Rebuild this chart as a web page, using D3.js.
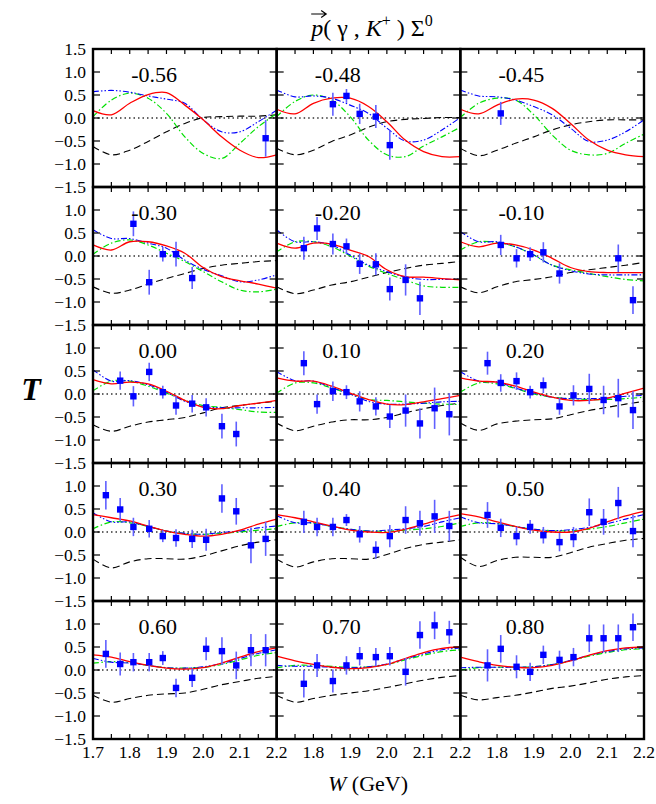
<!DOCTYPE html>
<html>
<head>
<meta charset="utf-8">
<script src="https://cdn.jsdelivr.net/npm/d3@7"></script>
<style>
  body { margin: 0; background: #fff; }
  svg { display: block; }
  text { font-family: "Liberation Serif", "DejaVu Serif", serif; fill: #000; }
</style>
</head>
<body>
<div id="chart"></div>
<script>
// cos(theta) label of every panel, row by row
const ANGLES = ["-0.56", "-0.48", "-0.45", "-0.30", "-0.20", "-0.10", "0.00", "0.10", "0.20",
                "0.30", "0.40", "0.50", "0.60", "0.70", "0.80"];

const W_GRID = [1.70, 1.75, 1.80, 1.85, 1.90, 1.95, 2.00, 2.05, 2.10, 2.15, 2.20];

// model curves, one array per panel (red solid)
const RED = [
  [0.16, 0.07, 0.32, 0.51, 0.55, 0.28, -0.04, -0.41, -0.70, -0.86, -0.80],
  [0.19, 0.09, 0.32, 0.43, 0.43, 0.25, -0.08, -0.48, -0.73, -0.84, -0.84],
  [0.19, 0.09, 0.28, 0.41, 0.39, 0.21, -0.12, -0.48, -0.70, -0.80, -0.84],
  [0.24, 0.13, 0.31, 0.31, 0.22, 0.06, -0.25, -0.45, -0.54, -0.61, -0.70],
  [0.28, 0.17, 0.28, 0.26, 0.13, -0.01, -0.30, -0.45, -0.46, -0.49, -0.52],
  [0.31, 0.20, 0.28, 0.24, 0.13, -0.05, -0.25, -0.34, -0.36, -0.36, -0.36],
  [0.31, 0.22, 0.26, 0.22, 0.06, -0.14, -0.29, -0.32, -0.25, -0.20, -0.14],
  [0.35, 0.28, 0.28, 0.17, 0.02, -0.12, -0.22, -0.23, -0.17, -0.10, -0.03],
  [0.35, 0.28, 0.26, 0.17, 0.04, -0.07, -0.14, -0.14, -0.09, 0.02, 0.13],
  [0.38, 0.31, 0.24, 0.13, 0.02, -0.05, -0.09, -0.05, 0.04, 0.17, 0.28],
  [0.38, 0.31, 0.22, 0.13, 0.04, 0.00, -0.01, 0.06, 0.17, 0.29, 0.38],
  [0.40, 0.33, 0.22, 0.12, 0.04, 0.00, 0.00, 0.08, 0.22, 0.35, 0.45],
  [0.33, 0.28, 0.18, 0.10, 0.04, 0.02, 0.05, 0.15, 0.28, 0.40, 0.48],
  [0.30, 0.20, 0.12, 0.06, 0.03, 0.05, 0.12, 0.25, 0.38, 0.47, 0.50],
  [0.28, 0.18, 0.10, 0.06, 0.05, 0.10, 0.20, 0.32, 0.42, 0.48, 0.50]
];

// green dash-dot
const GREEN = [
  [0.03, 0.39, 0.54, 0.43, 0.10, -0.41, -0.77, -0.88, -0.55, -0.19, 0.10],
  [0.03, 0.36, 0.50, 0.39, 0.03, -0.48, -0.80, -0.84, -0.61, -0.41, -0.20],
  [0.01, 0.32, 0.43, 0.39, 0.07, -0.37, -0.70, -0.80, -0.77, -0.55, -0.35],
  [0.04, 0.28, 0.35, 0.24, 0.06, -0.12, -0.34, -0.56, -0.74, -0.78, -0.72],
  [0.09, 0.31, 0.31, 0.20, 0.00, -0.22, -0.38, -0.52, -0.65, -0.68, -0.68],
  [0.13, 0.31, 0.29, 0.20, 0.02, -0.20, -0.30, -0.38, -0.45, -0.51, -0.54],
  [0.07, 0.28, 0.28, 0.17, 0.02, -0.14, -0.25, -0.29, -0.34, -0.39, -0.40],
  [0.02, 0.24, 0.24, 0.13, 0.00, -0.12, -0.14, -0.17, -0.20, -0.22, -0.23],
  [0.04, 0.24, 0.22, 0.12, 0.00, -0.07, -0.10, -0.12, -0.12, -0.10, -0.07],
  [0.07, 0.22, 0.20, 0.12, 0.02, -0.03, -0.05, -0.03, 0.00, 0.04, 0.07],
  [0.12, 0.20, 0.19, 0.12, 0.06, 0.02, 0.02, 0.04, 0.07, 0.12, 0.20],
  [0.12, 0.20, 0.18, 0.12, 0.06, 0.03, 0.03, 0.06, 0.12, 0.20, 0.28],
  [0.15, 0.18, 0.16, 0.10, 0.05, 0.04, 0.06, 0.12, 0.22, 0.32, 0.38],
  [0.05, 0.10, 0.10, 0.08, 0.06, 0.07, 0.12, 0.22, 0.32, 0.40, 0.44],
  [0.00, 0.05, 0.06, 0.06, 0.07, 0.12, 0.20, 0.30, 0.38, 0.44, 0.46]
];

// blue dash-dot-dot
const BLUE = [
  [0.57, 0.60, 0.56, 0.48, 0.41, 0.32, -0.04, -0.30, -0.30, -0.08, 0.17],
  [0.61, 0.46, 0.48, 0.43, 0.28, 0.10, -0.22, -0.50, -0.48, -0.26, 0.01],
  [0.61, 0.48, 0.46, 0.39, 0.25, 0.07, -0.22, -0.51, -0.48, -0.30, -0.04],
  [0.57, 0.38, 0.38, 0.28, 0.17, -0.09, -0.29, -0.43, -0.56, -0.52, -0.41],
  [0.57, 0.31, 0.31, 0.24, 0.02, -0.20, -0.34, -0.46, -0.51, -0.51, -0.50],
  [0.53, 0.31, 0.31, 0.20, 0.02, -0.20, -0.32, -0.39, -0.41, -0.41, -0.41],
  [0.53, 0.28, 0.29, 0.20, 0.04, -0.16, -0.27, -0.30, -0.30, -0.30, -0.29],
  [0.49, 0.29, 0.28, 0.14, 0.00, -0.16, -0.22, -0.22, -0.20, -0.17, -0.16],
  [0.49, 0.28, 0.26, 0.13, 0.02, -0.07, -0.10, -0.10, -0.09, -0.05, -0.03],
  [0.42, 0.22, 0.22, 0.12, 0.02, -0.03, -0.05, -0.01, 0.02, 0.09, 0.13],
  [0.36, 0.20, 0.20, 0.12, 0.06, 0.02, 0.04, 0.07, 0.12, 0.22, 0.31],
  [0.33, 0.20, 0.18, 0.12, 0.06, 0.03, 0.05, 0.10, 0.18, 0.28, 0.38],
  [0.25, 0.17, 0.15, 0.10, 0.05, 0.04, 0.07, 0.14, 0.25, 0.36, 0.44],
  [0.10, 0.08, 0.08, 0.06, 0.05, 0.07, 0.13, 0.24, 0.35, 0.44, 0.48],
  [0.05, 0.06, 0.06, 0.06, 0.07, 0.12, 0.21, 0.32, 0.40, 0.46, 0.48]
];

// black dashed
const BLACK = [
  [-0.62, -0.80, -0.70, -0.51, -0.30, -0.12, 0.01, 0.03, 0.04, 0.04, 0.07],
  [-0.66, -0.80, -0.70, -0.51, -0.37, -0.20, -0.08, -0.03, -0.01, 0.01, 0.01],
  [-0.66, -0.82, -0.70, -0.55, -0.41, -0.26, -0.15, -0.08, -0.04, -0.04, -0.04],
  [-0.67, -0.81, -0.74, -0.61, -0.49, -0.38, -0.27, -0.20, -0.16, -0.12, -0.10],
  [-0.67, -0.82, -0.74, -0.63, -0.56, -0.46, -0.36, -0.27, -0.20, -0.16, -0.12],
  [-0.67, -0.80, -0.67, -0.56, -0.51, -0.45, -0.36, -0.30, -0.25, -0.20, -0.14],
  [-0.67, -0.81, -0.70, -0.61, -0.56, -0.51, -0.41, -0.30, -0.25, -0.20, -0.16],
  [-0.63, -0.80, -0.70, -0.61, -0.56, -0.56, -0.51, -0.41, -0.32, -0.25, -0.20],
  [-0.63, -0.79, -0.65, -0.59, -0.56, -0.54, -0.45, -0.36, -0.29, -0.22, -0.16],
  [-0.59, -0.78, -0.65, -0.58, -0.58, -0.59, -0.52, -0.41, -0.30, -0.22, -0.17],
  [-0.59, -0.76, -0.65, -0.58, -0.58, -0.59, -0.49, -0.36, -0.27, -0.22, -0.17],
  [-0.55, -0.75, -0.62, -0.55, -0.55, -0.55, -0.45, -0.33, -0.25, -0.18, -0.14],
  [-0.55, -0.70, -0.62, -0.55, -0.52, -0.50, -0.42, -0.32, -0.25, -0.18, -0.14],
  [-0.55, -0.70, -0.62, -0.55, -0.50, -0.45, -0.38, -0.30, -0.22, -0.16, -0.12],
  [-0.55, -0.65, -0.60, -0.55, -0.48, -0.40, -0.35, -0.28, -0.20, -0.15, -0.12]
];

// W bins of the measured points
const W_BINS = [1.735, 1.774, 1.810, 1.853, 1.890, 1.926, 1.970, 2.008, 2.051, 2.090, 2.130, 2.170];

// measured T per panel (null = no point in that bin)
const T_DATA = [
  [null, null, null, null, null, null, null, null, null, null, null, -0.44],
  [null, null, null, 0.30, 0.48, 0.09, 0.03, -0.59, null, null, null, null],
  [null, null, 0.10, null, null, null, null, null, null, null, null, null],
  [null, null, 0.70, -0.57, 0.04, 0.04, -0.48, null, null, null, null, null],
  [null, 0.17, 0.60, 0.26, 0.21, -0.17, -0.18, -0.72, -0.52, -0.92, null, null],
  [null, null, 0.24, -0.05, 0.04, 0.08, -0.38, null, null, null, -0.05, -0.96],
  [null, 0.29, -0.05, 0.48, 0.04, -0.25, -0.21, -0.29, -0.70, -0.87, null, null],
  [null, 0.67, -0.22, 0.06, 0.04, -0.16, -0.27, -0.49, -0.36, -0.64, -0.31, -0.44],
  [null, 0.67, 0.24, 0.28, 0.04, 0.19, -0.27, -0.03, 0.11, -0.13, -0.09, -0.35],
  [0.80, 0.49, 0.11, 0.07, -0.09, -0.13, -0.15, -0.17, 0.73, 0.45, -0.29, -0.15],
  [null, 0.22, 0.11, 0.11, 0.26, -0.05, -0.39, -0.09, 0.26, 0.19, 0.34, 0.13],
  [null, 0.37, 0.09, -0.09, 0.11, -0.07, -0.22, -0.11, 0.43, 0.22, 0.63, 0.02],
  [0.35, 0.13, 0.17, 0.17, 0.26, -0.39, -0.17, 0.46, 0.41, 0.10, 0.43, 0.43],
  [null, -0.30, 0.10, -0.24, 0.10, 0.30, 0.28, 0.30, -0.04, 0.76, 0.97, 0.82],
  [null, 0.10, 0.46, 0.07, -0.04, 0.33, 0.22, 0.28, 0.69, 0.69, 0.69, 0.93]
];

// error bars, same layout
const T_ERR = [
  [null, null, null, null, null, null, null, null, null, null, null, 0.40],
  [null, null, null, 0.25, 0.15, 0.22, 0.25, 0.32, null, null, null, null],
  [null, null, 0.25, null, null, null, null, null, null, null, null, null],
  [null, null, 0.27, 0.27, 0.16, 0.27, 0.24, null, null, null, null, null],
  [null, 0.25, 0.25, 0.23, 0.17, 0.22, 0.24, 0.25, 0.34, 0.36, null, null],
  [null, null, 0.22, 0.20, 0.15, 0.22, 0.22, null, null, null, 0.30, 0.30],
  [null, 0.20, 0.22, 0.20, 0.14, 0.20, 0.19, 0.20, 0.27, 0.27, null, null],
  [null, 0.26, 0.21, 0.21, 0.15, 0.22, 0.20, 0.25, 0.35, 0.33, 0.45, 0.46],
  [null, 0.25, 0.19, 0.19, 0.14, 0.17, 0.18, 0.22, 0.33, 0.31, 0.42, 0.41],
  [0.31, 0.25, 0.20, 0.19, 0.13, 0.19, 0.20, 0.24, 0.31, 0.29, 0.39, 0.37],
  [null, 0.24, 0.20, 0.20, 0.13, 0.18, 0.19, 0.24, 0.30, 0.27, 0.36, 0.33],
  [null, 0.28, 0.20, 0.20, 0.15, 0.18, 0.20, 0.22, 0.30, 0.28, 0.35, 0.35],
  [0.30, 0.25, 0.20, 0.20, 0.15, 0.20, 0.20, 0.25, 0.30, 0.30, 0.35, 0.35],
  [null, 0.30, 0.25, 0.25, 0.20, 0.20, 0.20, 0.20, 0.30, 0.30, 0.30, 0.25],
  [null, 0.35, 0.30, 0.25, 0.20, 0.20, 0.20, 0.20, 0.30, 0.30, 0.30, 0.30]
];

const Y_TICKS = [-1.5, -1.0, -0.5, 0.0, 0.5, 1.0, 1.5];
const X_LABELS = [1.7, 1.8, 1.9, 2.0, 2.1, 2.2];

// layout
const width = 656, height = 804;
const plotL = 93, plotT = 49, plotR = 644, plotB = 739;
const ncol = 3, nrow = 5;
const pw = (plotR - plotL) / ncol, ph = (plotB - plotT) / nrow;

const svg = d3.select("#chart").append("svg")
    .attr("width", width)
    .attr("height", height);

const x = d3.scaleLinear().domain([1.7, 2.2]).range([0, pw]);
const y = d3.scaleLinear().domain([-1.5, 1.5]).range([ph, 0]);

const line = d3.line()
    .x((d, i) => x(W_GRID[i]))
    .y(d => y(d))
    .curve(d3.curveCatmullRom.alpha(0.5));

const styles = [
  {data: BLACK, color: "#000", dash: "7,4", w: 1.1},
  {data: GREEN, color: "#00e000", dash: "6,2.5,1.5,2.5", w: 1.2},
  {data: BLUE, color: "#0000ff", dash: "6,2,1.5,2,1.5,2", w: 1.1},
  {data: RED, color: "#ff0000", dash: null, w: 1.3}
];

ANGLES.forEach((ang, p) => {
  const col = p % ncol, row = Math.floor(p / ncol);
  const g = svg.append("g")
      .attr("transform", "translate(" + (plotL + col * pw) + "," + (plotT + row * ph) + ")");

  // zero line
  g.append("line")
      .attr("x1", 0).attr("x2", pw)
      .attr("y1", y(0)).attr("y2", y(0))
      .attr("stroke", "#333")
      .attr("stroke-width", 1.3)
      .attr("stroke-dasharray", "1.5,3");

  styles.forEach(s => {
    g.append("path")
        .attr("d", line(s.data[p]))
        .attr("fill", "none")
        .attr("stroke", s.color)
        .attr("stroke-width", s.w)
        .attr("stroke-dasharray", s.dash);
  });

  const pts = W_BINS.map((w, i) => ({w: w, t: T_DATA[p][i], e: T_ERR[p][i]}))
      .filter(d => d.t !== null);

  g.selectAll(".err").data(pts).enter().append("line")
      .attr("x1", d => x(d.w)).attr("x2", d => x(d.w))
      .attr("y1", d => y(d.t - d.e)).attr("y2", d => y(d.t + d.e))
      .attr("stroke", "#6060ff")
      .attr("stroke-width", 1.6);

  g.selectAll(".pt").data(pts).enter().append("rect")
      .attr("x", d => x(d.w) - 3.2)
      .attr("y", d => y(d.t) - 3.2)
      .attr("width", 6.4).attr("height", 6.4)
      .attr("fill", "#0000ff");

  // ticks on all four sides, pointing in
  const xt = d3.range(1.75, 2.2, 0.05);
  xt.forEach(v => {
    g.append("line").attr("x1", x(v)).attr("x2", x(v)).attr("y1", 0).attr("y2", 5)
        .attr("stroke", "#000").attr("stroke-width", 1.2);
    g.append("line").attr("x1", x(v)).attr("x2", x(v)).attr("y1", ph).attr("y2", ph - 5)
        .attr("stroke", "#000").attr("stroke-width", 1.2);
  });
  Y_TICKS.slice(1, -1).forEach(v => {
    g.append("line").attr("x1", 0).attr("x2", 7).attr("y1", y(v)).attr("y2", y(v))
        .attr("stroke", "#000").attr("stroke-width", 1.2);
    g.append("line").attr("x1", pw).attr("x2", pw - 7).attr("y1", y(v)).attr("y2", y(v))
        .attr("stroke", "#000").attr("stroke-width", 1.2);
  });

  g.append("rect")
      .attr("width", pw).attr("height", ph)
      .attr("fill", "none")
      .attr("stroke", "#000")
      .attr("stroke-width", 2.4);

  g.append("text")
      .attr("x", 84).attr("y", 33)
      .attr("text-anchor", "end")
      .style("font-size", "22px")
      .text(ang);

  if (col === 0) {
    // the top "1.5" of lower rows sits exactly under the "-1.5" above, so it is left out
    Y_TICKS.filter(v => !(row > 0 && v === 1.5)).forEach(v => {
      g.append("text")
          .attr("x", -7).attr("y", y(v))
          .attr("dy", "0.35em")
          .attr("text-anchor", "end")
          .style("font-size", "17.5px")
          .text(d3.format(".1f")(v).replace("-", "\u2212"));
    });
  }
  if (row === nrow - 1) {
    X_LABELS.forEach(v => {
      if (col > 0 && v === 1.7) return;
      g.append("text")
          .attr("x", x(v)).attr("y", ph + 19)
          .attr("text-anchor", "middle")
          .style("font-size", "17.5px")
          .text(d3.format(".1f")(v));
    });
  }
});

// title
const title = svg.append("text")
    .attr("x", 372).attr("y", 36)
    .attr("text-anchor", "middle")
    .style("font-size", "24px");
title.append("tspan").style("font-style", "italic").text("p");
title.append("tspan").text("( \u03b3 , ");
title.append("tspan").style("font-style", "italic").text("K");
title.append("tspan").attr("dy", -10).style("font-size", "16px").text("+");
title.append("tspan").attr("dy", 10).text(" ) \u03a3");
title.append("tspan").attr("dy", -10).style("font-size", "16px").text("0");

const pBox = title.node().getExtentOfChar(0);
const ax0 = pBox.x, ax1 = pBox.x + pBox.width + 3, ay = 14;
svg.append("path")
    .attr("d", "M" + ax0 + "," + ay + "H" + ax1 + "M" + (ax1 - 5) + "," + (ay - 3.5) + "L" + ax1 + "," + ay + "L" + (ax1 - 5) + "," + (ay + 3.5))
    .attr("fill", "none")
    .attr("stroke", "#000")
    .attr("stroke-width", 1.2);

// axis labels
svg.append("text")
    .attr("x", 31).attr("y", 400)
    .attr("text-anchor", "middle")
    .style("font-size", "32px")
    .style("font-style", "italic")
    .style("font-weight", "bold")
    .text("T");

const xl = svg.append("text")
    .attr("x", 368).attr("y", 791)
    .attr("text-anchor", "middle")
    .style("font-size", "22px");
xl.append("tspan").style("font-style", "italic").text("W");
xl.append("tspan").text(" (GeV)");
</script>
</body>
</html>
